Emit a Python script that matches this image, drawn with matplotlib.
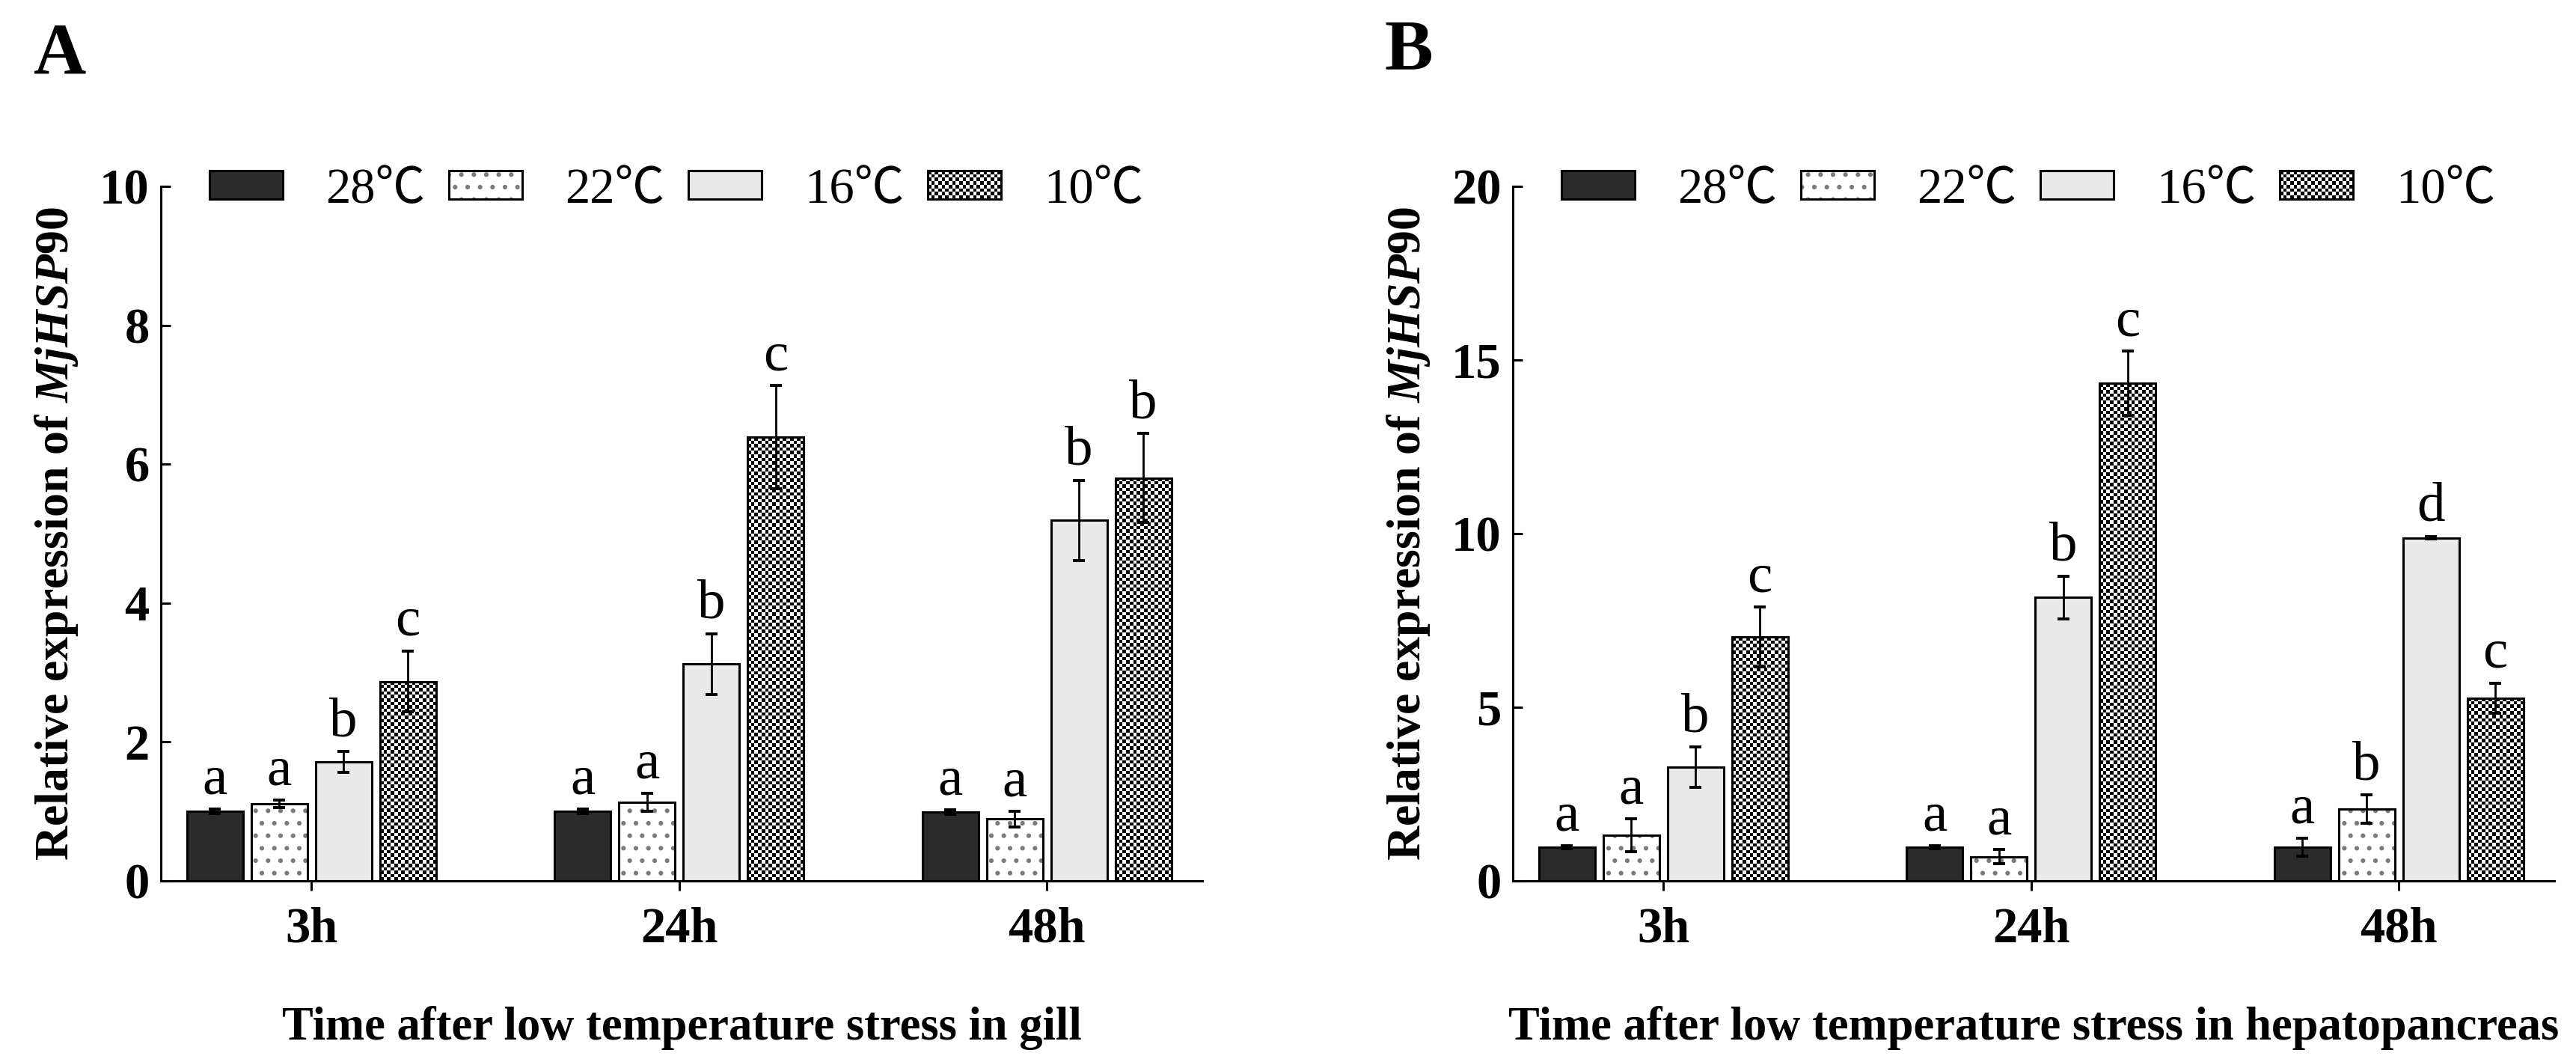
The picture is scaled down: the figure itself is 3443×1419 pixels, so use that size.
import numpy as np
import matplotlib
matplotlib.use("Agg")
import matplotlib.pyplot as plt
from matplotlib.patches import Patch, Rectangle
from matplotlib.legend_handler import HandlerBase, HandlerTuple
from matplotlib.image import BboxImage
from matplotlib.transforms import Bbox, TransformedBbox

# ---------------- data ----------------
times = ["3h", "24h", "48h"]
temps = ["28\u2103", "22\u2103", "16\u2103", "10\u2103"]

# Panel A: gill
gill_28 = [1.00, 1.00, 0.99]
gill_22 = [1.11, 1.13, 0.89]
gill_16 = [1.71, 3.12, 5.19]
gill_10 = [2.87, 6.39, 5.80]
gill_28_err = [0.03, 0.03, 0.03]
gill_22_err = [0.05, 0.13, 0.11]
gill_16_err = [0.15, 0.44, 0.58]
gill_10_err = [0.44, 0.74, 0.64]
gill_28_sig = ["a", "a", "a"]
gill_22_sig = ["a", "a", "a"]
gill_16_sig = ["b", "b", "b"]
gill_10_sig = ["c", "c", "b"]

# Panel B: hepatopancreas
hep_28 = [0.97, 0.97, 0.97]
hep_22 = [1.32, 0.70, 2.07]
hep_16 = [3.28, 8.16, 9.88]
hep_10 = [7.02, 14.33, 5.26]
hep_28_err = [0.04, 0.04, 0.26]
hep_22_err = [0.47, 0.20, 0.40]
hep_16_err = [0.58, 0.62, 0.04]
hep_10_err = [0.86, 0.92, 0.44]
hep_28_sig = ["a", "a", "a"]
hep_22_sig = ["a", "a", "b"]
hep_16_sig = ["b", "b", "d"]
hep_10_sig = ["c", "c", "c"]

ylabel_text = r"Relative expression of $\mathit{MjHSP90}$"
xlabel_A = "Time after low temperature stress in gill"
xlabel_B = "Time after low temperature stress in hepatopancreas"
yticks_A = [0, 2, 4, 6, 8, 10]
yticks_B = [0, 5, 10, 15, 20]

# ---------------- style ----------------
plt.rcParams["font.family"] = ["Liberation Serif", "Noto Sans CJK SC"]
plt.rcParams["font.weight"] = "bold"
plt.rcParams["mathtext.fontset"] = "custom"
plt.rcParams["mathtext.it"] = "Liberation Serif:italic:bold"
plt.rcParams["mathtext.rm"] = "Liberation Serif:bold"
plt.rcParams["mathtext.bf"] = "Liberation Serif:bold"
plt.rcParams["hatch.linewidth"] = 2.0

DPI = 100
W, H = 3443, 1419
fig = plt.figure(figsize=(W / DPI, H / DPI), dpi=DPI)

LW = 2.2
FS = 48
CELL = 4.6  # checker cell size in pixels

c28 = "#2b2b2b"
c16 = "#e9e9e9"
dot_col = "#7a7a7a"


def checker(nr, nc):
    nr = max(int(nr), 1)
    nc = max(int(nc), 1)
    return (np.indices((nr, nc)).sum(axis=0) % 2).astype(float)


class CheckerHandler(HandlerBase):
    def create_artists(self, legend, orig_handle, xdescent, ydescent,
                       width, height, fontsize, trans):
        bb = TransformedBbox(Bbox.from_bounds(-xdescent, -ydescent, width, height), trans)
        img = BboxImage(bb, cmap="gray", interpolation="nearest")
        wpx = width * DPI / 72.0
        hpx = height * DPI / 72.0
        img.set_data(checker(round(hpx / CELL), round(wpx / CELL)))
        img.set_clim(0, 1)
        rect = Rectangle((-xdescent, -ydescent), width, height, facecolor="none",
                         edgecolor="black", lw=LW, transform=trans)
        return [img, rect]


class CheckerKey:
    pass


def panel(rect, series, errs, sigs, yticks, ylim, xlabel, letter, letter_xy):
    ax = fig.add_axes(rect)
    x = np.arange(len(times))
    w = 0.1526
    offs = [-0.2625, -0.0875, 0.0875, 0.2625]
    ax.set_xlim(-0.409, 2.423)
    ax.set_ylim(*ylim)

    # 28
    ax.bar(x + offs[0], series[0], w, facecolor=c28, edgecolor="black", lw=LW, zorder=2)
    # 22 (dots)
    ax.bar(x + offs[1], series[1], w, facecolor="white", edgecolor=dot_col, hatch=".", lw=0, zorder=2)
    ax.bar(x + offs[1], series[1], w, fill=False, edgecolor="black", lw=LW, zorder=2.3)
    # 16
    ax.bar(x + offs[2], series[2], w, facecolor=c16, edgecolor="black", lw=LW, zorder=2)
    # 10 (checker)
    bars10 = ax.bar(x + offs[3], series[3], w, facecolor="white", edgecolor="none", lw=0, zorder=2)
    for b in bars10:
        ext = b.get_window_extent()
        nr = round(ext.height / CELL)
        nc = round(ext.width / CELL)
        im = ax.imshow(checker(nr, nc), cmap="gray", vmin=0, vmax=1,
                       interpolation="nearest", aspect="auto",
                       extent=(b.get_x(), b.get_x() + b.get_width(), 0, b.get_height()),
                       origin="lower", zorder=2.1)
        im.set_clip_path(b)
    ax.bar(x + offs[3], series[3], w, fill=False, edgecolor="black", lw=LW, zorder=2.3)

    for i in range(4):
        ax.errorbar(x + offs[i], series[i], yerr=errs[i], fmt="none", ecolor="black",
                    elinewidth=2.0, capsize=6, capthick=2.8, zorder=3)
        for j in range(len(x)):
            ax.annotate(sigs[i][j], (x[j] + offs[i], series[i][j] + errs[i][j]),
                        xytext=(0, 15), textcoords="offset points", ha="center",
                        va="baseline", fontsize=54, fontweight="normal")

    ax.set_xlim(-0.409, 2.423)
    ax.set_ylim(*ylim)
    ax.set_xticks(x)
    ax.set_xticklabels(times)
    ax.set_yticks(yticks)
    ax.spines["top"].set_visible(False)
    ax.spines["right"].set_visible(False)
    ax.spines["left"].set_linewidth(LW)
    ax.spines["bottom"].set_linewidth(LW)
    ax.tick_params(axis="y", direction="in", length=9, width=LW, labelsize=FS, pad=11)
    ax.tick_params(axis="x", direction="out", length=9, width=LW, labelsize=FS, pad=16)
    for t in ax.get_xticklabels() + ax.get_yticklabels():
        t.set_fontweight("bold")

    ax.set_ylabel(ylabel_text, fontsize=46, fontweight="bold")
    ax.yaxis.set_label_coords(-0.100, 0.5)
    ax.yaxis.label.set_va("center")
    ax.set_xlabel(xlabel, fontsize=45, fontweight="bold")
    ax.xaxis.set_label_coords(0.5, -0.2284)
    ax.xaxis.label.set_va("baseline")

    handles = [
        Patch(facecolor=c28, edgecolor="black", lw=LW),
        (Patch(facecolor="white", edgecolor=dot_col, hatch=".", lw=0),
         Patch(facecolor="none", edgecolor="black", lw=LW)),
        Patch(facecolor=c16, edgecolor="black", lw=LW),
        CheckerKey(),
    ]
    ax.legend(handles, temps, ncol=4, loc="center left", bbox_to_anchor=(0.0467, 0.994),
              frameon=False, borderpad=0, borderaxespad=0, handlelength=1.47,
              handleheight=0.5, handletextpad=0.86, columnspacing=0.47,
              prop={"size": FS, "weight": "normal"},
              handler_map={CheckerKey: CheckerHandler(), tuple: HandlerTuple(ndivide=1, pad=0)})

    fig.text(letter_xy[0], letter_xy[1], letter, fontsize=70, fontweight="bold",
             ha="left", va="baseline")
    return ax


axw = 1392 / W
axb = (H - 1177) / H
axh = 928 / H

panel([215 / W, axb, axw, axh],
      [gill_28, gill_22, gill_16, gill_10],
      [gill_28_err, gill_22_err, gill_16_err, gill_10_err],
      [gill_28_sig, gill_22_sig, gill_16_sig, gill_10_sig],
      yticks_A, (0, 10), xlabel_A, "A", (45 / W, 1 - 98 / H))

panel([2022 / W, axb, axw, axh],
      [hep_28, hep_22, hep_16, hep_10],
      [hep_28_err, hep_22_err, hep_16_err, hep_10_err],
      [hep_28_sig, hep_22_sig, hep_16_sig, hep_10_sig],
      yticks_B, (0, 20), xlabel_B, "B", (1850 / W, 1 - 93 / H))

fig.savefig("out.png", dpi=DPI, facecolor="white")
